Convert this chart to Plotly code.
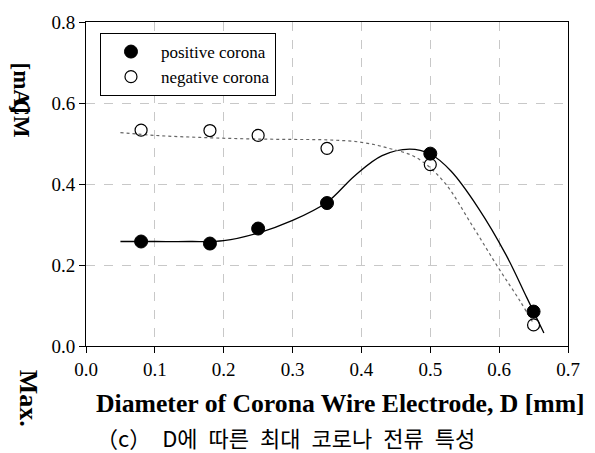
import plotly.graph_objects as go

# measured data
d_pos = [0.08, 0.18, 0.25, 0.35, 0.50, 0.65]
i_pos = [0.258, 0.253, 0.290, 0.353, 0.475, 0.085]
d_neg = [0.08, 0.18, 0.25, 0.35, 0.50, 0.65]
i_neg = [0.533, 0.532, 0.520, 0.488, 0.448, 0.052]

# fitted curves
fit_pos_x = [0.05, 0.10, 0.15, 0.20, 0.25, 0.30, 0.35, 0.39, 0.43, 0.47, 0.50, 0.53, 0.57, 0.61, 0.64, 0.665]
fit_pos_y = [0.258, 0.258, 0.258, 0.260, 0.279, 0.310, 0.355, 0.420, 0.470, 0.486, 0.474, 0.432, 0.340, 0.225, 0.120, 0.032]
fit_neg_x = [0.05, 0.10, 0.15, 0.20, 0.25, 0.30, 0.35, 0.40, 0.44, 0.48, 0.52, 0.56, 0.60, 0.63, 0.65]
fit_neg_y = [0.527, 0.520, 0.516, 0.513, 0.511, 0.510, 0.509, 0.503, 0.488, 0.465, 0.405, 0.300, 0.190, 0.112, 0.055]

x_ticks = [0.0, 0.1, 0.2, 0.3, 0.4, 0.5, 0.6, 0.7]
y_ticks = [0.0, 0.2, 0.4, 0.6, 0.8]

SERIF = "Liberation Serif"

fig = go.Figure()
fig.add_trace(go.Scatter(x=fit_pos_x, y=fit_pos_y, mode="lines", line=dict(color="black", width=1.3, shape="spline", smoothing=1.0), showlegend=False, hoverinfo="skip"))
fig.add_trace(go.Scatter(x=fit_neg_x, y=fit_neg_y, mode="lines", line=dict(color="#666666", width=1.2, dash="dot", shape="spline", smoothing=1.0), showlegend=False, hoverinfo="skip"))
fig.add_trace(go.Scatter(x=d_pos, y=i_pos, mode="markers", name="positive corona",
                         marker=dict(symbol="circle", size=13, color="black", line=dict(color="black", width=1))))
fig.add_trace(go.Scatter(x=d_neg, y=i_neg, mode="markers", name="negative corona",
                         marker=dict(symbol="circle-open", size=12, color="black", line=dict(color="black", width=1.2))))

axis_common = dict(showline=True, linecolor="black", linewidth=1, mirror=True, ticks="outside", ticklen=6,
                   tickcolor="black", showgrid=True, gridcolor="#c8c8c8", griddash="dash", gridwidth=1,
                   zeroline=False, tickfont=dict(family=SERIF, size=19, color="black"))
fig.update_xaxes(range=[0, 0.7], tickvals=x_ticks, ticktext=[f"{v:.1f}" for v in x_ticks], **axis_common)
fig.update_yaxes(range=[0, 0.8], tickvals=y_ticks, ticktext=[f"{v:.1f}" for v in y_ticks], **axis_common)

fig.add_annotation(text="<b>Diameter of Corona Wire Electrode, D [mm]</b>", xref="paper", yref="paper",
                   x=0.527, y=-0.178, showarrow=False, font=dict(family=SERIF, size=25.7, color="black"),
                   xanchor="center", yanchor="middle")
fig.add_annotation(text="<b>Max.</b>", textangle=90, xref="paper", yref="paper", x=-0.12, y=-0.16,
                   showarrow=False, font=dict(family=SERIF, size=26, color="black"), xanchor="center", yanchor="middle")
fig.add_annotation(text="<b>[mA]</b>", textangle=90, xref="paper", yref="paper", x=-0.133, y=0.795,
                   showarrow=False, font=dict(family=SERIF, size=23, color="black"), xanchor="center", yanchor="middle")
fig.add_annotation(text="<b>ÇM</b>", textangle=90, xref="paper", yref="paper", x=-0.133, y=0.70,
                   showarrow=False, font=dict(family=SERIF, size=23, color="black"), xanchor="center", yanchor="middle")
fig.add_annotation(text="（c）\u2002D에\u2002따른\u2002최대\u2002코로나\u2002전류\u2002특성", xref="paper", yref="paper",
                   x=0.413, y=-0.28,
                   showarrow=False, font=dict(family="Noto Sans CJK KR", size=22, color="black"), xanchor="center", yanchor="middle")

fig.update_layout(
    width=595, height=453,
    margin=dict(l=86, r=27, t=20, b=107),
    paper_bgcolor="white", plot_bgcolor="white",
    showlegend=True,
    legend=dict(x=0.029, y=0.966, xanchor="left", yanchor="top", bgcolor="white", bordercolor="black", borderwidth=1,
                font=dict(family=SERIF, size=17, color="black"), itemwidth=50, tracegroupgap=0),
)

fig.write_html("out.html")
